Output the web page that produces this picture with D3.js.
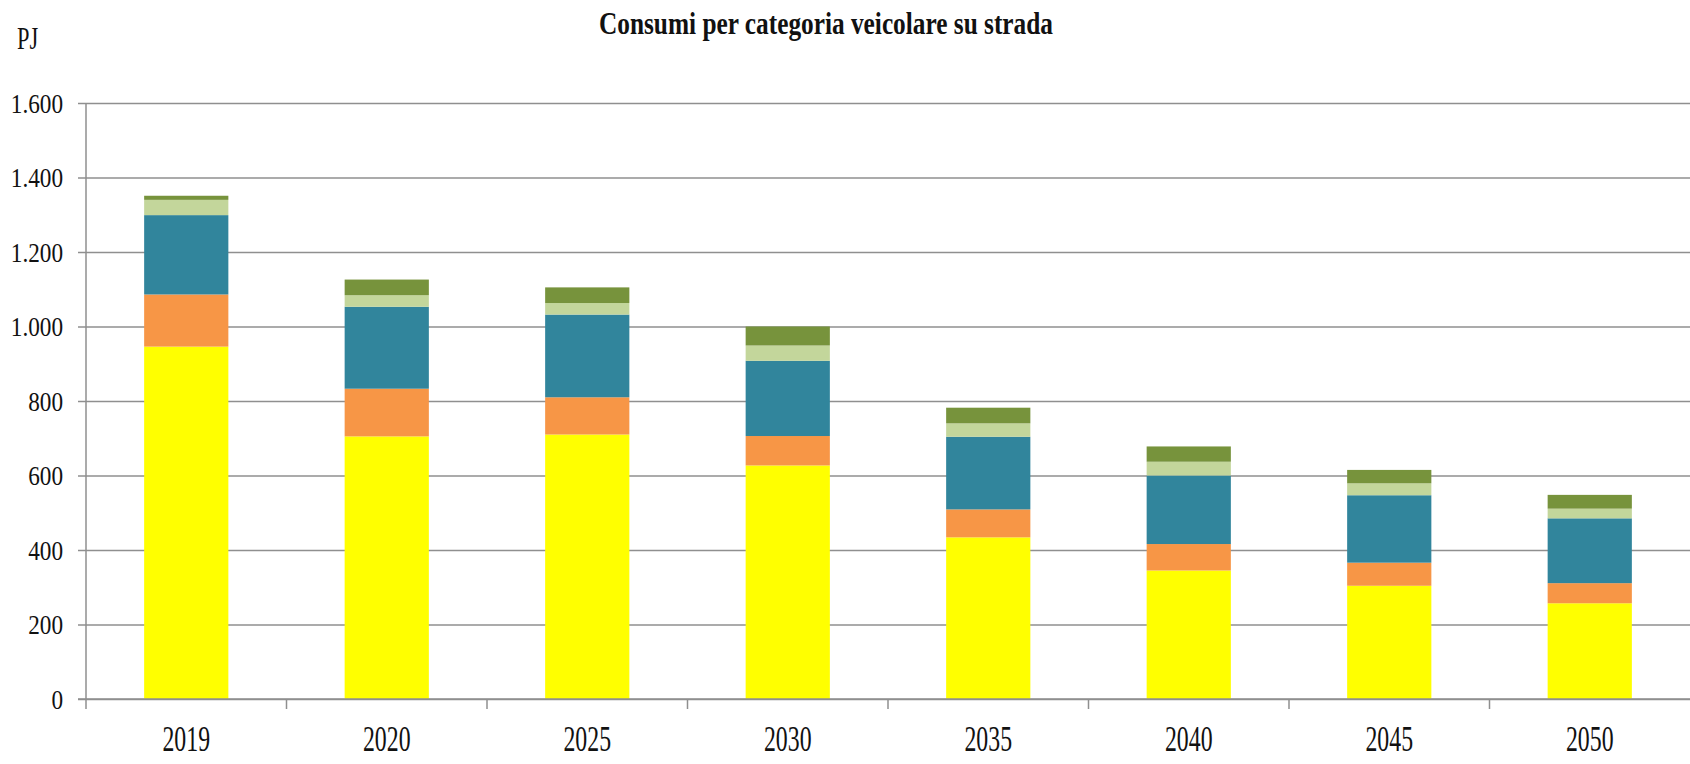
<!DOCTYPE html>
<html>
<head>
<meta charset="utf-8">
<script src="https://cdn.jsdelivr.net/npm/d3@7"></script>
<style>
	html, body {margin: 0; padding: 0; background: #fff;}
	svg {display: block;}
	text {font-family: "Liberation Serif", "DejaVu Serif", serif; fill: #111;}
</style>
</head>
<body>
<svg id="chart" width="1690" height="764"></svg>
<script>
// values, PJ per year
var years = ["2019", "2020", "2025", "2030", "2035", "2040", "2045", "2050"];
var yellow = [946, 705, 710, 627, 434, 345, 304, 257];
var orange = [140, 128, 100, 79, 75, 71, 62, 54];
var teal = [213, 220, 222, 202, 195, 184, 181, 174];
var lightGreen = [41, 31, 31, 41, 36, 37, 32, 26];
var darkGreen = [11, 42, 42, 51, 42, 41, 36, 37];
var yTicks = [0, 200, 400, 600, 800, 1000, 1200, 1400, 1600];

var seriesNames = ["yellow", "orange", "teal", "lightGreen", "darkGreen"];
var seriesValues = [yellow, orange, teal, lightGreen, darkGreen];
var colors = ["#ffff00", "#f79646", "#31859c", "#c3d69b", "#77933c"];

var svg = d3.select("#chart");
var plotLeft = 86, plotRight = 1690, plotTop = 103, plotBottom = 699;
var gridColor = "#8f8f8f";

// italian number format: 1.600
var it = d3.formatLocale({decimal: ",", thousands: ".", grouping: [3], currency: ["", " €"]});
var fmt = it.format(",d");

var x = d3.scaleBand()
	.domain(years)
	.range([plotLeft, plotRight])
	.paddingInner(0.58)
	.paddingOuter(0.29);

var y = d3.scaleLinear()
	.domain([0, 1600])
	.range([plotBottom, plotTop]);

// build rows for the stack from the arrays
var rows = years.map(function(yr, i) {
	var row = {year: yr};
	seriesNames.forEach(function(name, s) {
		row[name] = seriesValues[s][i];
	});
	return row;
});
var stacked = d3.stack().keys(seriesNames)(rows);

// horizontal grid + left ticks
var yAxis = d3.axisLeft(y)
	.tickValues(yTicks)
	.tickSize(-(plotRight - plotLeft))
	.tickSizeOuter(0)
	.tickFormat(fmt);

var yScaleX = 0.86;
var gy = svg.append("g")
	.attr("transform", "translate(" + plotLeft + ",0)")
	.call(yAxis);
gy.select(".domain").remove();
gy.selectAll(".tick line")
	.attr("x1", -8)
	.attr("stroke", gridColor)
	.attr("stroke-width", 1.5);
gy.selectAll(".tick text")
	.attr("font-size", 27)
	.attr("font-family", "Liberation Serif")
	.attr("fill", "#111")
	.attr("x", -23 / yScaleX)
	.attr("dy", "0.34em")
	.attr("transform", "scale(" + yScaleX + ",1)");

// stacked bars
svg.append("g")
	.selectAll("g")
	.data(stacked)
	.join("g")
	.attr("fill", function(d, i) {return colors[i];})
	.selectAll("rect")
	.data(function(d) {return d;})
	.join("rect")
	.attr("x", function(d) {return x(d.data.year);})
	.attr("width", x.bandwidth())
	.attr("y", function(d) {return y(d[1]);})
	.attr("height", function(d) {return y(d[0]) - y(d[1]);});

// axis lines
svg.append("line")
	.attr("x1", plotLeft).attr("x2", plotLeft)
	.attr("y1", plotTop).attr("y2", plotBottom + 10)
	.attr("stroke", gridColor).attr("stroke-width", 1.5);
svg.append("line")
	.attr("x1", plotLeft - 8).attr("x2", plotRight)
	.attr("y1", plotBottom).attr("y2", plotBottom)
	.attr("stroke", gridColor).attr("stroke-width", 1.5);

// category boundary ticks below the axis
var gap = (x.step() - x.bandwidth()) / 2;
svg.append("g")
	.selectAll("line")
	.data(years.slice(1))
	.join("line")
	.attr("x1", function(d) {return x(d) - gap;})
	.attr("x2", function(d) {return x(d) - gap;})
	.attr("y1", plotBottom)
	.attr("y2", plotBottom + 10)
	.attr("stroke", gridColor)
	.attr("stroke-width", 1.5);

// year labels
var xScaleX = 0.68;
svg.append("g")
	.selectAll("text")
	.data(years)
	.join("text")
	.attr("font-size", 35)
	.attr("text-anchor", "middle")
	.attr("transform", function(d) {
		return "translate(" + (x(d) + x.bandwidth() / 2) + "," + 751 + ") scale(" + xScaleX + ",1)";
	})
	.text(function(d) {return d;});

// title and unit
svg.append("text")
	.attr("x", 599)
	.attr("y", 34)
	.attr("font-size", 31)
	.attr("font-weight", "bold")
	.attr("textLength", 454)
	.attr("lengthAdjust", "spacingAndGlyphs")
	.text("Consumi per categoria veicolare su strada");

svg.append("text")
	.attr("transform", "translate(17,49) scale(0.7,1)")
	.attr("font-size", 32)
	.text("PJ");
</script>
</body>
</html>
